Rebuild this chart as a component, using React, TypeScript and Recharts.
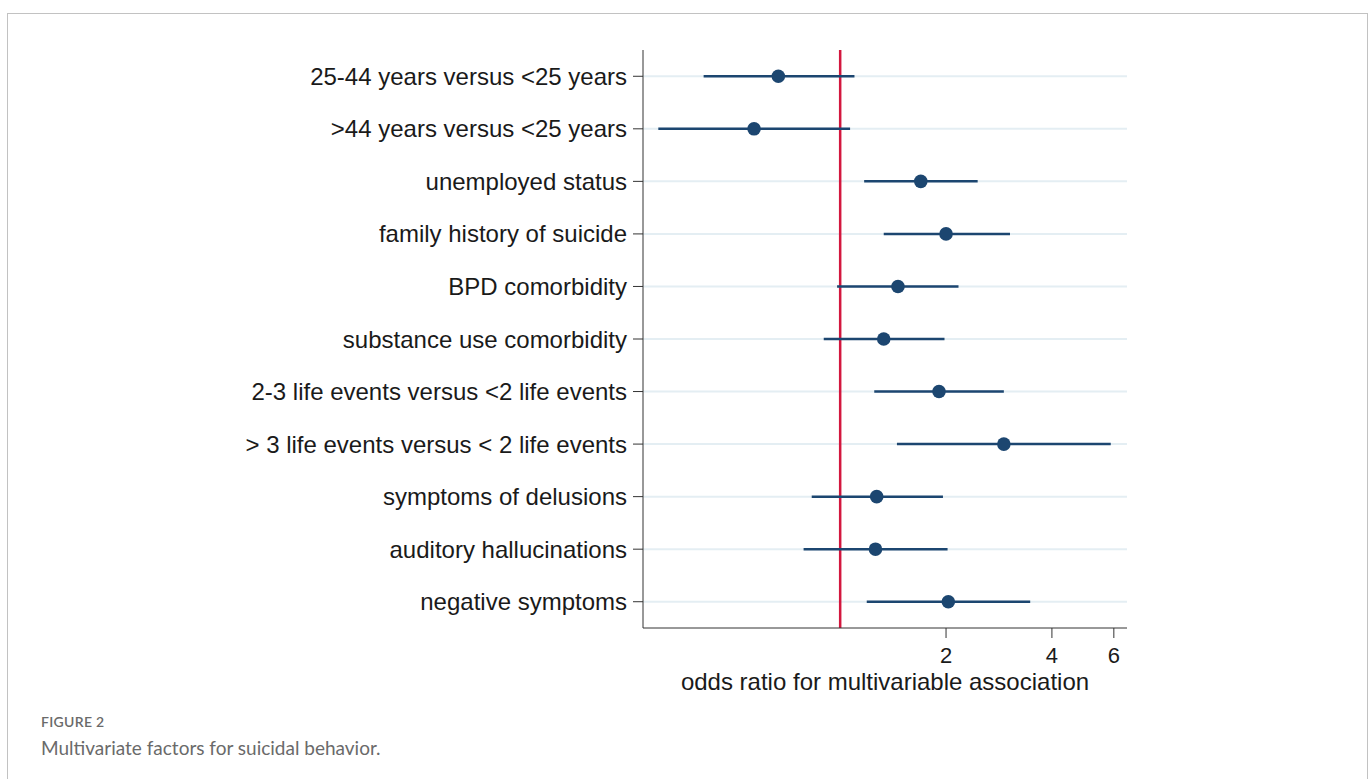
import React from "react";
import {
    ScatterChart,
    Scatter,
    XAxis,
    YAxis,
    ErrorBar,
    ReferenceLine
} from "recharts";

// forest plot: odds ratios with 95% CI, log x-axis
const factors = [
    "25-44 years versus <25 years",
    ">44 years versus <25 years",
    "unemployed status",
    "family history of suicide",
    "BPD comorbidity",
    "substance use comorbidity",
    "2-3 life events versus <2 life events",
    "> 3 life events versus < 2 life events",
    "symptoms of delusions",
    "auditory hallucinations",
    "negative symptoms",
];
const oddsRatio = [0.667, 0.569, 1.695, 2.0, 1.46, 1.33, 1.91, 2.92, 1.27, 1.26, 2.03];
const ciLow = [0.409, 0.304, 1.17, 1.33, 0.98, 0.898, 1.25, 1.45, 0.83, 0.787, 1.19];
const ciHigh = [1.098, 1.067, 2.46, 3.04, 2.17, 1.98, 2.92, 5.88, 1.96, 2.02, 3.47];
const xTicks = [2, 4, 6];

const data = factors.map((name, i) => ({
    name,
    or: oddsRatio[i],
    err: [oddsRatio[i] - ciLow[i], ciHigh[i] - oddsRatio[i]],
}));

const navy = "#1c4670";
const font = "Liberation Sans, Arial, sans-serif";

// bigger dot than the default scatter symbol
const Dot = (props: any) => <circle cx={props.cx} cy={props.cy} r={6.8} fill={navy} />;

export default function App() {
    return (
        <div style={{ position: "absolute", left: 0, top: 0, width: 1370, height: 779, background: "#fff", overflow: "hidden" }}>
            <div
                style={{
                    position: "absolute",
                    left: 7,
                    top: 13,
                    width: 1361,
                    height: 800,
                    border: "1px solid #c2c2c2",
                    boxSizing: "border-box",
                }}
            />
            <div style={{ position: "absolute", left: 0, top: 0 }}>
                <ScatterChart
                    width={1370}
                    height={779}
                    margin={{ top: 50, right: 243, left: 0, bottom: 121 }}
                >
                    <XAxis
                        dataKey="or"
                        type="number"
                        scale="log"
                        domain={[0.275, 6.54]}
                        allowDataOverflow
                        ticks={xTicks}
                        height={30}
                        tickSize={10}
                        tickMargin={9}
                        stroke="#333"
                        tick={{ fill: "#1a1a1a", fontSize: 22, fontFamily: font }}
                        label={{
                            value: "odds ratio for multivariable association",
                            position: "bottom",
                            offset: 15,
                            fill: "#1a1a1a",
                            fontSize: 24,
                            fontFamily: font,
                        }}
                    />
                    <YAxis
                        dataKey="name"
                        type="category"
                        allowDuplicatedCategory={false}
                        reversed
                        width={643}
                        tickSize={10}
                        tickMargin={6}
                        stroke="#333"
                        interval={0}
                        tick={{ fill: "#1a1a1a", fontSize: 24, fontFamily: font }}
                    />
                    {factors.map((f) => (
                        <ReferenceLine key={f} y={f} stroke="#e4eef3" strokeWidth={2} />
                    ))}
                    <ReferenceLine x={1} stroke="#d3173e" strokeWidth={2.5} />
                    <Scatter data={data} fill={navy} isAnimationActive={false} shape={Dot}>
                        <ErrorBar
                            dataKey="err"
                            direction="x"
                            width={0}
                            stroke={navy}
                            strokeWidth={2.5}
                            isAnimationActive={false}
                        />
                    </Scatter>
                </ScatterChart>
            </div>
            <div
                style={{
                    position: "absolute",
                    left: 41,
                    top: 713,
                    fontFamily: "Lato, 'Open Sans', sans-serif",
                    fontSize: 14,
                    fontWeight: 600,
                    color: "#6a6a6a",
                    letterSpacing: 0.3,
                }}
            >
                FIGURE 2
            </div>
            <div
                style={{
                    position: "absolute",
                    left: 41,
                    top: 736,
                    fontFamily: "Lato, 'Open Sans', sans-serif",
                    fontSize: 19,
                    color: "#6a6a6a",
                }}
            >
                Multivariate factors for suicidal behavior.
            </div>
        </div>
    );
}
